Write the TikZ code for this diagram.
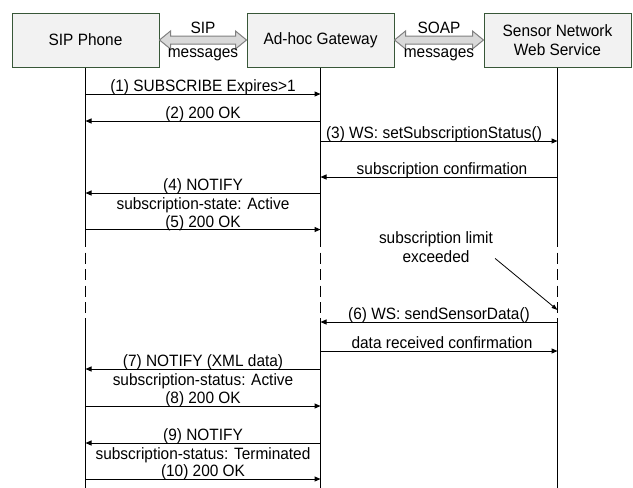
\documentclass[tikz,border=0pt]{standalone}
\usepackage{fontspec}
\setmainfont{Liberation Sans}[FakeStretch=0.94]
\definecolor{boxfill}{RGB}{242, 242, 242}
\definecolor{boxline}{RGB}{56, 87, 56}
\definecolor{pipefill}{RGB}{217, 217, 217}
\definecolor{pipeline}{RGB}{128, 128, 128}
\usetikzlibrary{arrows.meta, calc}
\tikzset{
	entity/.style={rectangle, draw=boxline, fill=boxfill, line width=1pt, align=center, minimum width=147pt, minimum height=54pt, inner sep=0pt, font=\fontsize{16.4}{19.5}\selectfont},
	lifeline/.style={line width=1.5pt, draw=black},
	pausedline/.style={lifeline, dash pattern=on 11pt off 5.5pt},
	msg/.style={-{Triangle[length=6pt, width=5pt]}, line width=1pt},
	msgtop/.style={midway, anchor=base, yshift=2.5pt, inner sep=0pt, font=\fontsize{16.4}{18}\selectfont},
	msgbot/.style={midway, anchor=base, yshift=-16.5pt, inner sep=0pt, font=\fontsize{16.4}{18}\selectfont},
	pipe/.style={draw=pipeline, fill=pipefill, line width=1pt},
	note/.style={inner sep=0pt, align=center, font=\fontsize{16.4}{18.5}\selectfont},
}
\begin{document}
\begin{tikzpicture}[x=1pt, y=-1pt]
		\useasboundingbox (0,0) rectangle (633,488);
		\node[entity] (phone) at (85.5,40) {SIP Phone};
		\node[entity] (gw) at (320.5,40) {Ad-hoc Gateway};
		\node[entity] (sn) at (557.5,40) {Sensor Network\\Web Service};
		% lifelines, dashed where time passes
		\draw[lifeline] (phone.south) -- (phone |- 0,236);
		\draw[pausedline] (phone |- 0,236) -- (phone |- 0,318);
		\draw[lifeline] (phone |- 0,318) -- (phone |- 0,488);
		\draw[lifeline] (gw.south) -- (gw |- 0,236);
		\draw[pausedline] (gw |- 0,236) -- (gw |- 0,318);
		\draw[lifeline] (gw |- 0,318) -- (gw |- 0,488);
		\draw[lifeline] (sn.south) -- (sn |- 0,236);
		\draw[pausedline] (sn |- 0,236) -- (sn |- 0,318);
		\draw[lifeline] (sn |- 0,318) -- (sn |- 0,488);
		% protocol pipes
		\draw[pipe] let \p1=(phone.east), \p2=(gw.west) in
			(\p1) -- (\x1+11pt,\y1+9pt) -- (\x1+11pt,\y1+4pt) -- (\x2-11pt,\y1+4pt) -- (\x2-11pt,\y1+9pt)
			-- (\p2) -- (\x2-11pt,\y1-9pt) -- (\x2-11pt,\y1-4pt) -- (\x1+11pt,\y1-4pt) -- (\x1+11pt,\y1-9pt) -- cycle;
		\draw[pipe] let \p1=(gw.east), \p2=(sn.west) in
			(\p1) -- (\x1+11pt,\y1+9pt) -- (\x1+11pt,\y1+4pt) -- (\x2-11pt,\y1+4pt) -- (\x2-11pt,\y1+9pt)
			-- (\p2) -- (\x2-11pt,\y1-9pt) -- (\x2-11pt,\y1-4pt) -- (\x1+11pt,\y1-4pt) -- (\x1+11pt,\y1-9pt) -- cycle;
		\node[note, anchor=base] (siptop) at (203,33) {SIP};
		\node[note, anchor=base] (sipbot) at (203,57.5) {messages};
		\node[note, anchor=base] (soaptop) at (439,33) {SOAP};
		\node[note, anchor=base] (soapbot) at (439,57.5) {messages};
		% messages
		\draw[msg] (phone |- 0,94) -- node[msgtop] {(1) SUBSCRIBE Expires>1} (gw |- 0,94);
		\draw[msg] (gw |- 0,121) -- node[msgtop] {(2) 200 OK} (phone |- 0,121);
		\draw[msg] (gw |- 0,141) -- node[msgtop, xshift=-5pt] {(3) WS: setSubscriptionStatus()} (sn |- 0,141);
		\draw[msg] (sn |- 0,177) -- node[msgtop, xshift=3pt] {subscription confirmation} (gw |- 0,177);
		\draw[msg] (gw |- 0,193) -- node[msgtop] {(4) NOTIFY} node[msgbot] {subscription-state: Active} (phone |- 0,193);
		\draw[msg] (phone |- 0,229.5) -- node[msgtop] {(5) 200 OK} (gw |- 0,229.5);
		\node[note] (limit) at (436,247) {subscription limit\\exceeded};
		\draw[-{Triangle[length=6pt, width=4pt]}, line width=0.8pt] ([xshift=2pt, yshift=4pt]limit.south east) -- (sn |- 0,310);
		\draw[msg] (sn |- 0,322) -- node[msgtop] {(6) WS: sendSensorData()} (gw |- 0,322);
		\draw[msg] (gw |- 0,351) -- node[msgtop, xshift=3pt] {data received confirmation} (sn |- 0,351);
		\draw[msg] (gw |- 0,369) -- node[msgtop] {(7) NOTIFY (XML data)} node[msgbot] {subscription-status: Active} (phone |- 0,369);
		\draw[msg] (phone |- 0,406) -- node[msgtop] {(8) 200 OK} (gw |- 0,406);
		\draw[msg] (gw |- 0,443) -- node[msgtop] {(9) NOTIFY} node[msgbot] {subscription-status: Terminated} (phone |- 0,443);
		\draw[msg] (phone |- 0,479) -- node[msgtop] {(10) 200 OK} (gw |- 0,479);
	\end{tikzpicture}
\end{document}
